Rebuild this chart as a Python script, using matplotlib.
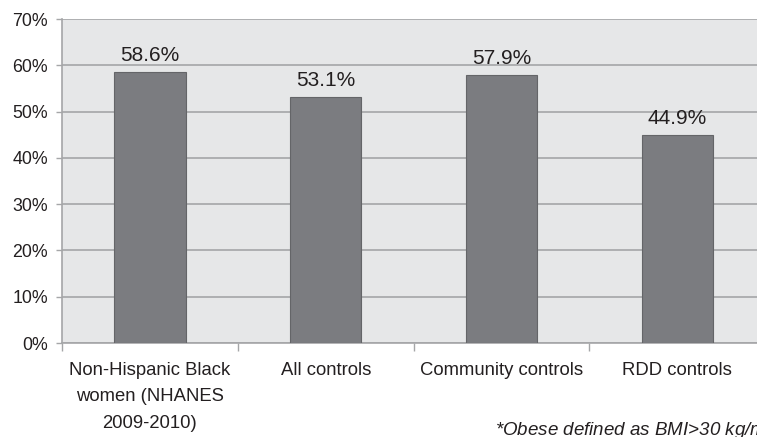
import matplotlib.pyplot as plt
import numpy as np

plt.rcParams['font.family'] = ['Liberation Sans', 'DejaVu Sans']

groups = ['Non-Hispanic Black\nwomen (NHANES\n2009-2010)', 'All controls',
          'Community controls', 'RDD controls']
obese_pct = [58.6, 53.1, 57.9, 44.9]
yticks = [0, 10, 20, 30, 40, 50, 60, 70]

txt = '#231f20'
grid_c = '#a5a6a8'

fig = plt.figure(figsize=(7.57, 4.37), dpi=100)
ax = fig.add_axes([0.0819, 0.215, 0.929, 0.7415])
ax.set_facecolor('#e6e7e8')

x = np.arange(len(groups))
bars = ax.bar(x, obese_pct, width=0.405, color='#7b7c80', edgecolor='#646568',
              linewidth=0.8, zorder=3)
for b, v in zip(bars, obese_pct):
    ax.text(b.get_x() + b.get_width() / 2, v + 1.5, '%.1f%%' % v,
            ha='center', va='bottom', fontsize=15, color=txt)

ax.set_xlim(-0.5, len(groups) - 0.5)
ax.set_ylim(0, 70)
ax.set_yticks(yticks)
ax.set_yticklabels(['%d%%' % t for t in yticks])
ax.yaxis.grid(True, color=grid_c, linewidth=1.2, zorder=1)
ax.set_axisbelow(True)

ax.set_xticks(x)
ax.set_xticklabels(groups, linespacing=1.72)
ax.set_xticks(np.arange(len(groups) + 1) - 0.5, minor=True)
ax.tick_params(axis='x', which='major', length=0, pad=13.5, labelsize=13.3, labelcolor=txt)
ax.tick_params(axis='x', which='minor', length=6, width=1, color=grid_c, direction='out')
ax.tick_params(axis='y', length=4, width=1, color=grid_c, pad=6, labelsize=12.8, labelcolor=txt)

for s in ['top', 'right']:
    ax.spines[s].set_visible(False)
for s in ['left', 'bottom']:
    ax.spines[s].set_color(grid_c)
    ax.spines[s].set_linewidth(1.2)

fig.text(495 / 757, 1 - 429 / 437, '*Obese defined as BMI>30 kg/m$^2$', fontsize=13.5,
         style='italic', color=txt, va='center', ha='left')

fig.savefig('out.png', dpi=100)
